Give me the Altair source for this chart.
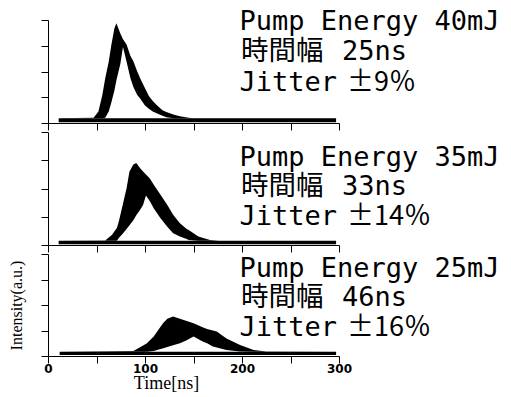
import altair as alt
import pandas as pd

X_TICKS = [0, 50, 100, 150, 200, 250, 300]
Y_TICKS = [0, 1, 2, 3, 4]

# Panel 1 (40 mJ): time [ns], outer envelope, inner envelope of overlaid traces
t1 = [11, 47, 52, 56, 59, 62.6, 65.3, 68.4, 70.5, 74.6, 77.3, 81, 85, 88, 92, 95, 100, 104,
      108, 112, 118, 122, 130, 136, 145, 150, 297]
up1 = [0.18, 0.2, 0.45, 1.09, 1.74, 2.38, 3.03, 3.67, 3.87, 3.48, 3.25, 3.05, 2.6, 2.4, 2.0,
       1.74, 1.35, 1.05, 0.85, 0.70, 0.5, 0.43, 0.32, 0.26, 0.2, 0.18, 0.18]
lo1 = [0.18, 0.18, 0.18, 0.18, 0.2, 0.45, 0.8, 1.25, 1.65, 2.3, 2.95, 2.38, 1.74, 1.4, 1.09,
       0.95, 0.68, 0.55, 0.45, 0.38, 0.28, 0.22, 0.18, 0.18, 0.18, 0.18, 0.18]
base1 = [0.03, 0.18]

# Panel 2 (35 mJ)
t2 = [11, 59, 66, 71, 73, 77, 81, 84, 88, 91, 95, 98, 101, 105, 109, 116, 123, 129, 136, 143,
      145, 155, 167, 176, 297]
up2 = [0.15, 0.16, 0.36, 0.6, 0.83, 1.42, 2.01, 2.6, 2.85, 2.9, 2.72, 2.6, 2.5, 2.35, 2.13,
       1.78, 1.42, 1.07, 0.77, 0.57, 0.53, 0.3, 0.18, 0.15, 0.15]
lo2 = [0.15, 0.15, 0.15, 0.15, 0.25, 0.4, 0.57, 0.7, 0.88, 1.05, 1.25, 1.42, 1.75, 1.55, 1.3,
       0.95, 0.65, 0.42, 0.3, 0.21, 0.18, 0.15, 0.15, 0.15, 0.15]
base2 = [0.03, 0.15]

# Panel 3 (25 mJ)
t3 = [12, 88, 99, 102, 109, 116, 119, 123, 129, 136, 143, 150, 160, 164, 170, 174, 184, 198,
      212, 225, 297]
up3 = [0.17, 0.2, 0.43, 0.5, 0.76, 1.15, 1.3, 1.46, 1.55, 1.46, 1.37, 1.28, 1.12, 1.06, 1.0,
       0.96, 0.69, 0.43, 0.24, 0.18, 0.17]
lo3 = [0.17, 0.17, 0.17, 0.17, 0.2, 0.27, 0.3, 0.35, 0.42, 0.5, 0.62, 0.76, 0.56, 0.5, 0.37,
       0.33, 0.24, 0.18, 0.17, 0.17, 0.17]
base3 = [0.04, 0.17]

energy = ["Pump Energy 40mJ", "Pump Energy 35mJ", "Pump Energy 25mJ"]
width_label = "時間幅"
widths = ["25ns", "33ns", "46ns"]
jitter_label = "Jitter"
jitters = ["±9％", "±14％", "±16％"]

heights = [103, 113, 102]
line_y = [[10, 40, 71], [34, 63, 93], [23, 52, 82]]

MONO = "DejaVu Sans Mono"
CJK = "Noto Sans CJK JP"


def txt(s, x, y, font, size):
    return alt.Chart(pd.DataFrame({"s": [s]})).mark_text(
        align="left", baseline="alphabetic", font=font, fontSize=size, color="black"
    ).encode(x=alt.value(x), y=alt.value(y), text="s:N")


def panel(i, t, up, lo, base, bottom):
    pulse = pd.DataFrame({"t": t, "up": up, "lo": lo})
    band = pd.DataFrame({"t": [t[0], t[-1]], "up": [base[1], base[1]], "lo": [base[0], base[0]]})
    if bottom:
        xaxis = alt.Axis(values=X_TICKS,
                         labelExpr="datum.value % 100 === 0 ? datum.label : ''",
                         labelFlush=False, labelFont="DejaVu Sans", labelFontWeight="bold",
                         labelFontSize=12, labelPadding=0,
                         title="Time[ns]", titleFont="Liberation Serif", titleFontSize=18,
                         titleFontWeight="normal", titleX=118, titleY=32,
                         titleBaseline="alphabetic", titleAlign="center")
        yaxis = alt.Axis(values=Y_TICKS, labels=False, title="Intensity(a.u.)",
                         titleFont="Liberation Serif", titleFontSize=16,
                         titleFontWeight="normal", titlePadding=16)
    else:
        xaxis = alt.Axis(values=X_TICKS, labels=False, title=None)
        yaxis = alt.Axis(values=Y_TICKS, labels=False, title=None)
    x = alt.X("t:Q", scale=alt.Scale(domain=[0, 300], nice=False, zero=False), axis=xaxis)
    y = alt.Y("up:Q", scale=alt.Scale(domain=[0, 4], nice=False), axis=yaxis)
    base_layer = alt.Chart(band).mark_area(color="black", orient="vertical").encode(
        x=x, y=y, y2="lo:Q")
    pulse_layer = alt.Chart(pulse).mark_area(color="black", orient="vertical").encode(
        x=x, y=y, y2="lo:Q")
    ly = line_y[i]
    texts = [
        txt(energy[i], 191.5, ly[0], MONO, 27),
        txt(width_label, 193, ly[1], CJK, 27.5),
        txt(widths[i], 294, ly[1], MONO, 27),
        txt(jitter_label, 191.5, ly[2], MONO, 27),
        txt(jitters[i], 299, ly[2], CJK, 27),
    ]
    return alt.layer(base_layer, pulse_layer, *texts).properties(width=291, height=heights[i])


p1 = panel(0, t1, up1, lo1, base1, False)
p2 = panel(1, t2, up2, lo2, base2, False)
p3 = panel(2, t3, up3, lo3, base3, True)

chart = alt.vconcat(p1, p2, p3, spacing=9, bounds="flush").properties(
    padding=0
).configure_axis(
    grid=False, domainColor="black", tickColor="black", tickSize=7,
    domainWidth=1, tickWidth=1, labelColor="black", titleColor="black"
).configure_view(stroke=None)

chart.save("out.html", embed_options={"renderer": "svg", "actions": False})
